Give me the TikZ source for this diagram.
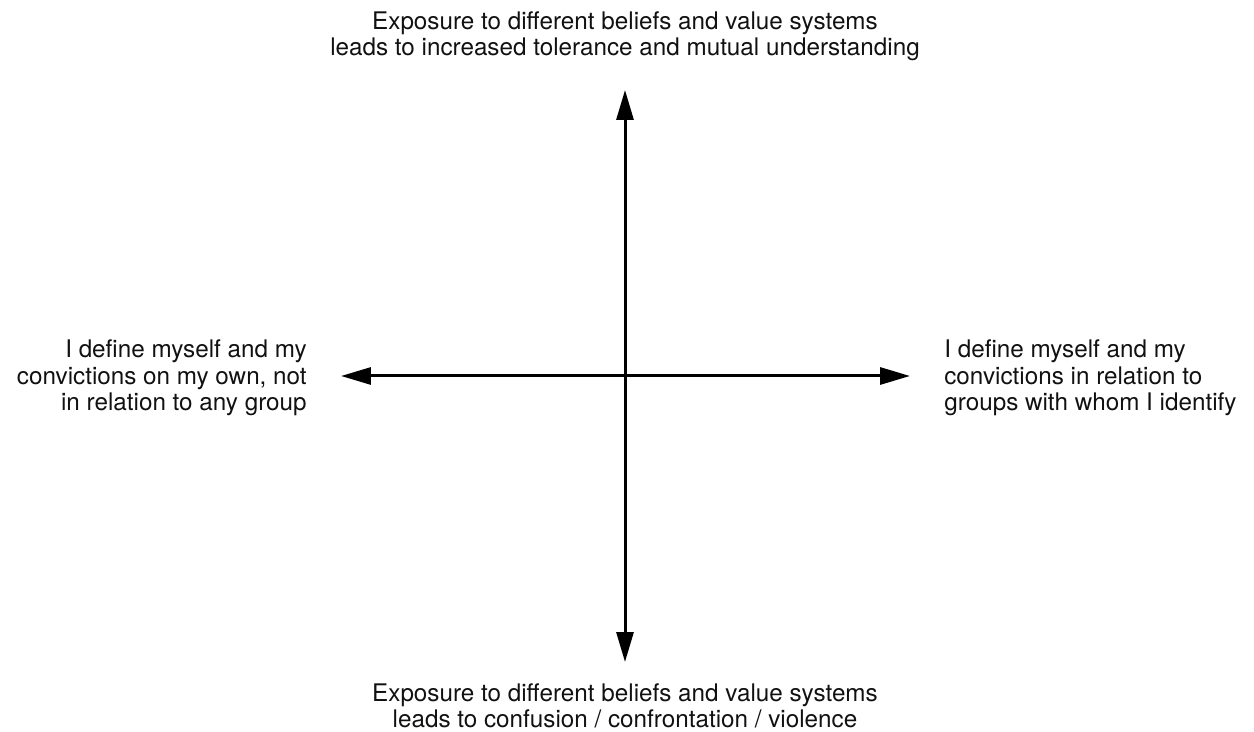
\documentclass[tikz,border=0pt]{standalone}
\usepackage{fontspec}
\setmainfont{TeX Gyre Heros}
\usepackage{tikz}
\usetikzlibrary{arrows.meta,positioning}
\definecolor{AxisBlack}{HTML}{000000}
\definecolor{LabelGray}{HTML}{111111}
\tikzset{%
  axisline/.style={{Triangle[length=6mm,width=3.4mm]}-{Triangle[length=6mm,width=3.4mm]},
    line width=0.06cm,AxisBlack},
  polelabel/.style={inner sep=0pt,text=LabelGray,
    font=\fontsize{13.8}{15}\selectfont},
  westlabel/.style={polelabel,align=right,anchor=east},
  eastlabel/.style={polelabel,align=left,anchor=west}
}

\begin{document}
\begin{tikzpicture}[x=0.02cm,y=-0.02cm]
      \useasboundingbox (0,0) rectangle (1254,732);
      % ends of the two axes
      \coordinate (north) at (625,90);
      \coordinate (south) at (625,662);
      \coordinate (west) at (341,376);
      \coordinate (east) at (910,376);
      \draw[axisline] (south) -- (north);
      \draw[axisline] (west) -- (east);
      % labels at the four poles
      \node[polelabel,align=center] (open) at (625,36)
        {Exposure to different beliefs and value systems\\leads to increased tolerance and mutual understanding};
      \node[polelabel,align=center] (clash) at (625,706)
        {Exposure to different beliefs and value systems\\leads to confusion / confrontation / violence};
      \node[westlabel] (self) at (307,378)
        {I define myself and my\\convictions on my own, not\\in relation to any group};
      \node[eastlabel] (group) at (944,378)
        {I define myself and my\\convictions in relation to\\groups with whom I identify};
    \end{tikzpicture}
\end{document}
